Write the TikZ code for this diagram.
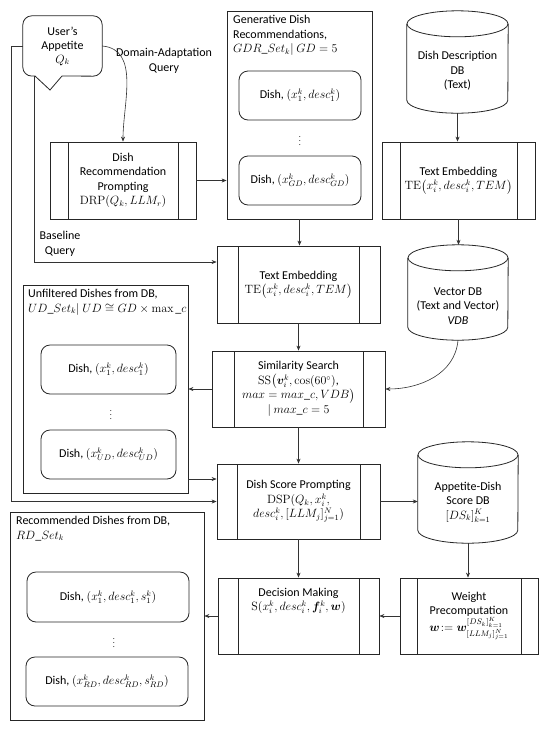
\documentclass[tikz,border=0pt]{standalone}
\usepackage[no-math]{fontspec}
\usepackage{amsmath,bm}
\setmainfont{Carlito}
\usetikzlibrary{arrows.meta,calc}
\newcommand\cylshape[2]{%
  \draw[ln] ([yshift=-13pt]#1.north west) -- ([yshift=13pt]#1.south west)
     arc[start angle=180,end angle=360,x radius=#2pt,y radius=13pt]
     -- ([yshift=-13pt]#1.north east);
  \draw[ln] ([yshift=-13pt]#1.north) ellipse[x radius=#2pt,y radius=13pt];}
\begin{document}
\begin{tikzpicture}[x=1pt,y=1pt,
  every node/.style={font=\fontsize{12}{14.5}\selectfont, inner sep=2pt, align=center},
  ln/.style={line width=0.8pt, draw=black!85},
  con/.style={line width=0.6pt, draw=black!80, -{Stealth[length=5pt,width=4pt]}},
  proc/.style n args={3}{draw, ln, minimum width=#1pt, minimum height=#2pt,
    path picture={\draw[ln] ([xshift=#3pt]path picture bounding box.north west) -- ([xshift=#3pt]path picture bounding box.south west)
      ([xshift=-#3pt]path picture bounding box.north east) -- ([xshift=-#3pt]path picture bounding box.south east);}},
  cont/.style 2 args={draw, ln, minimum width=#1pt, minimum height=#2pt},
  dish/.style 2 args={draw, ln, rounded corners=9pt, minimum width=#1pt, minimum height=#2pt},
  cylbox/.style 2 args={minimum width=#1pt, minimum height=#2pt},
  title/.style={anchor=north west, align=left},
  dots/.style={font=\fontsize{8}{9}\selectfont}
]
\fill[white] (0,0) rectangle (550,-729);
\useasboundingbox (0,0) rectangle (550,-729);

% user bubble
\node[minimum width=79pt, minimum height=60pt] (user) at (62.5,-46) {User’s\\Appetite\\[-1pt]$Q_k$};
\draw[ln, rounded corners=9pt] (62,-76) -- (user.south east) -- (user.north east) -- (user.north west) -- (user.south west) -- (35,-76);
\draw[ln, line join=miter] (35,-76) -- (50,-90) -- (62,-76);

% DRP
\node[proc={146}{77}{18}] (drp) at (123,-180.5) {Dish\\Recommendation\\Prompting\\$\mathrm{DRP}(Q_k, LLM_r)$};

% GDR container
\node[cont={145}{208}] (gdr) at (299.5,-115) {};
\node[title] (gdrt) at (231,-13) {Generative Dish\\Recommendations,\\$GDR\_Set_k|\ GD=5$};
\node[dish={122}{49}] (gd1) at (300,-95.5) {Dish, $(x_1^k, desc_1^k)$};
\node[dots] (gdd) at (300,-138) {$\vdots$};
\node[dish={122}{49}] (gd2) at (300,-180.5) {Dish, $(x_{GD}^k, desc_{GD}^k)$};

% Dish Description DB
\node[cylbox={101}{102}] (dddb) at (457.5,-62) {};
\cylshape{dddb}{50.5}
\node (dddbt) at (457.5,-71) {Dish Description\\DB\\(Text)};

% TE right
\node[proc={153}{77}{18}] (ter) at (458.5,-180.5) {Text Embedding\\$\mathrm{TE}\bigl(x_i^k, desc_i^k, TEM\bigr)$};

% Vector DB
\node[cylbox={100}{95}] (vdb) at (458,-292.5) {};
\cylshape{vdb}{50}
\node (vdbt) at (458,-306) {Vector DB\\(Text and Vector)\\\textit{VDB}};

% TE center
\node[proc={163}{77}{21}] (te) at (298.5,-284.5) {Text Embedding\\$\mathrm{TE}\bigl(x_i^k, desc_i^k, TEM\bigr)$};

% SS
\node[proc={173}{76}{22}] (ss) at (298.5,-389) {Similarity Search\\$\mathrm{SS}\bigl(\bm{v}_i^k, \cos(60^{\circ})$,\\$max=max\_c, VDB\bigr)$\\$|\ max\_c=5$};

% UD container
\node[cont={165}{208}] (ud) at (105.5,-389) {};
\node[title] (udt) at (26,-287) {Unfiltered Dishes from DB,\\$UD\_Set_k|\ UD\cong GD\times \max\_c$};
\node[dish={135}{49}] (ud1) at (108.5,-369.5) {Dish, $(x_1^k, desc_1^k)$};
\node[dots] (udd) at (111,-412) {$\vdots$};
\node[dish={135}{49}] (ud2) at (108.5,-454.5) {Dish, $(x_{UD}^k, desc_{UD}^k)$};

% DSP
\node[proc={163}{75}{20}] (dsp) at (298.5,-501.5) {Dish Score Prompting\\$\mathrm{DSP}(Q_k, x_i^k,$\\$desc_i^k, [LLM_j]_{j=1}^N)$};

% Appetite-Dish Score DB
\node[cylbox={100}{101}] (addb) at (468,-492.5) {};
\cylshape{addb}{50}
\node (addbt) at (468,-502) {Appetite-Dish\\Score DB\\$[DS_k]_{k=1}^K$};

% DM
\node[proc={161}{76}{20}] (dm) at (298.5,-616) {};
\node (dmt) at (298.5,-601) {Decision Making\\$\mathrm{S}(x_i^k, desc_i^k, \bm{f}_i^k, \bm{w})$};

% WP
\node[proc={138}{76}{17}] (wp) at (469,-616) {Weight\\Precomputation\\$\bm{w}\!:=\bm{w}^{[DS_k]_{k=1}^K}_{[LLM_j]_{j=1}^N}$};

% RD container
\node[cont={194}{208}] (rd) at (107,-616) {};
\node[title] (rdt) at (14,-514) {Recommended Dishes from DB,\\$RD\_Set_k$};
\node[dish={162}{50}] (rd1) at (108,-597) {Dish, $(x_1^k, desc_1^k, s_1^k)$};
\node[dots] (rdd) at (114,-640) {$\vdots$};
\node[dish={162}{49}] (rd2) at (107,-681.5) {Dish, $(x_{RD}^k, desc_{RD}^k, s_{RD}^k)$};

% labels
\node (dalab) at (164,-61) {Domain-Adaptation\\Query};
\node (bllab) at (60,-244) {Baseline\\Query};

% connectors
\draw[con] (user.east) to[out=-5,in=90] (drp.north);
\draw[con] (user.west) -- (11,-46) |- (dsp.west);
\draw[con] ([xshift=11pt]user.south west) |- ([yshift=22.5pt]te.west);
\draw[con] (drp.east) -- (drp.east -| gdr.west);
\draw[con] (gdr.south) -- (gdr.south |- te.north);
\draw[con] (dddb.south) -- (dddb.south |- ter.north);
\draw[con] (ter.south) -- (ter.south |- vdb.north);
\draw[con] (te.south) -- (ss.north);
\draw[con] (vdb.south) to[out=-95,in=0] (ss.east);
\draw[con] (ss.west) -- (ud.east);
\draw[con] (ss.south) -- (dsp.north);
\draw[con] ([yshift=-90pt]ud.east) -- ([yshift=-90pt]ud.east -| dsp.west);
\draw[con] (dsp.east) -- (dsp.east -| addb.west);
\draw[con] (dsp.south) -- (dm.north);
\draw[con] (addb.south) -- (addb.south |- wp.north);
\draw[con] (wp.west) -- (dm.east);
\draw[con] (dm.west) -- (rd.east);
\end{tikzpicture}
\end{document}
